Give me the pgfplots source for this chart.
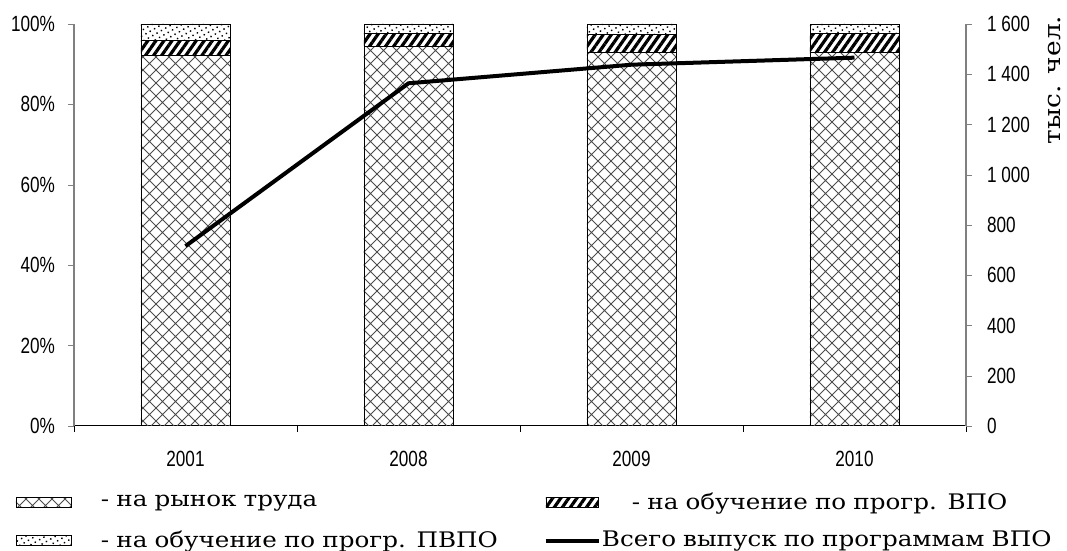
\documentclass[border=0pt]{standalone}
\usepackage{fontspec}
\setmainfont{DejaVu Serif}
\newfontfamily\narrow[FakeStretch=0.78]{Liberation Sans}
\newfontfamily\legfont[FakeStretch=1.15]{DejaVu Serif}
\usepackage{pgfplots}
\pgfplotsset{compat=1.18}
\usetikzlibrary{patterns,patterns.meta}

\tikzdeclarepattern{
  name=diamonds,
  type=uncolored,
  bounding box={(-0.5pt,-0.5pt) and (7pt,7pt)},
  tile size={(6.5pt,6.5pt)},
  code={\draw[line width=0.45pt] (0pt,0pt) -- (6.5pt,6.5pt) (0pt,6.5pt) -- (6.5pt,0pt);}
}
\pgfplotsset{
  boxlegwide/.style={legend image code/.code={\draw[##1] (0pt,-2.5pt) rectangle (27.5pt,2.5pt); \path[draw=none] (42pt,0pt);}},
  boxleg/.style={legend image code/.code={\draw[##1] (0pt,-2.5pt) rectangle (26pt,2.5pt);}},
  lineleg/.style={legend image code/.code={\draw[##1] (0pt,0pt) -- (26.5pt,0pt);}},
}

\begin{document}
\begin{tikzpicture}
\useasboundingbox (0pt,0pt) rectangle (533.5pt,275.5pt);
\begin{axis}[
  at={(37pt,62.5pt)}, anchor=south west,
  width=446pt, height=201pt, scale only axis,
  xmin=-0.5, xmax=3.5, ymin=0, ymax=100,
  ybar stacked, bar width=44.5pt,
  axis x line*=bottom, axis y line*=left,
  axis line style={-},
  x axis line style={black, line width=0.5pt},
  y axis line style={gray, line width=0.6pt},
  tick align=outside,
  major tick length=3pt,
  xtick={-0.5,0.5,1.5,2.5,3.5}, xticklabels={,,,,},
  xtick style={black},
  extra x ticks={0,1,2,3},
  extra x tick labels={2001,2008,2009,2010},
  extra x tick style={xtick style={draw=none}},
  ytick={0,20,40,60,80,100},
  yticklabel={\pgfmathprintnumber{\tick}\%},
  ytick style={gray},
  /pgf/number format/assume math mode=true,
  tick label style={font=\narrow\fontsize{11}{12}\selectfont},
  xticklabel style={yshift=-6pt},
  yticklabel style={xshift=-3pt},
  legend cell align=left,
  legend columns=2,
  legend style={draw=none, fill=none, inner sep=0pt,
    at={(axis description cs:-0.066,-0.162)}, anchor=north west,
    font=\legfont\fontsize{10.7}{12}\selectfont,
    row sep=8.3pt,
    nodes={inner sep=0.5pt, text width=221pt}},
]
\addplot[pattern=diamonds, pattern color=gray!60!black, draw=black, line width=0.4pt, boxlegwide]
  coordinates {(0,92.1) (1,94.4) (2,92.9) (3,93.0)};
\addplot[pattern={Lines[angle=55,distance=3.3pt,line width=1.6pt]}, draw=black, line width=0.4pt, boxleg]
  coordinates {(0,3.9) (1,3.3) (2,4.6) (3,4.6)};
\addplot[pattern={Dots[distance=2.5pt,angle=30,radius=0.5pt]}, draw=black, line width=0.4pt, boxlegwide]
  coordinates {(0,4.0) (1,2.3) (2,2.5) (3,2.4)};
\addlegendimage{black, line width=2pt, lineleg}
\legend{\mbox{- на рынок труда}, \mbox{\hspace*{15pt}- на обучение по прогр. ВПО}, \mbox{- на обучение по прогр. ПВПО}, \mbox{Всего выпуск по программам ВПО}}
\end{axis}
\begin{axis}[
  at={(37pt,62.5pt)}, anchor=south west,
  width=446pt, height=201pt, scale only axis,
  xmin=-0.5, xmax=3.5, ymin=0, ymax=1600,
  axis x line=none, axis y line*=right,
  axis line style={-, gray, line width=0.6pt},
  tick align=outside,
  major tick length=3pt,
  ytick={0,200,...,1600},
  ytick style={gray},
  /pgf/number format/assume math mode=true,
  /pgf/number format/1000 sep={\ },
  tick label style={font=\narrow\fontsize{11}{12}\selectfont},
  yticklabel style={xshift=4pt},
  clip=false,
]
\addplot[black, line width=2pt] coordinates {(0,716) (1,1364) (2,1438) (3,1466)};
\node[rotate=90, font=\legfont\fontsize{11.5}{12}\selectfont] at (rel axis cs:1.099,0.861) {тыс. чел.};
\end{axis}
\end{tikzpicture}
\end{document}
